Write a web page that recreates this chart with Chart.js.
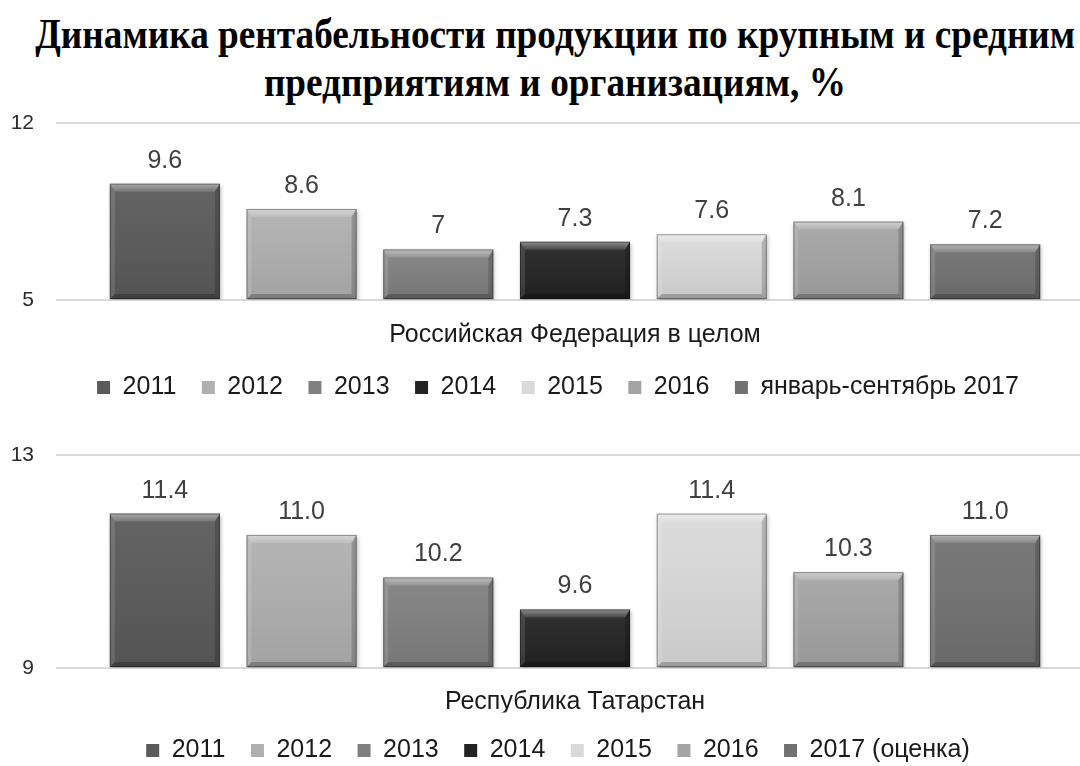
<!DOCTYPE html>
<html lang="ru">
<head>
  <meta charset="UTF-8" />
  <title>Динамика рентабельности продукции</title>
  <script src="https://cdn.jsdelivr.net/npm/chart.js"></script>
  <style>
    html, body { margin: 0; padding: 0; background: #fff; }
    #page { position: relative; width: 1080px; height: 766px; overflow: hidden; background: #fff; }
    #title {
      position: absolute; top: 10px; left: -445px; width: 2000px;
      text-align: center; white-space: nowrap;
      font-family: 'Liberation Serif', 'Times New Roman', serif;
      font-weight: bold; font-size: 43px; line-height: 48px; color: #000;
    }
    #title span { display: inline-block; transform-origin: center; }
    canvas { position: absolute; left: 0; }
    #rf { top: 110px; }
    #rt { top: 420px; }
  </style>
</head>
<body>
  <div id="page">
    <div id="title"><span id="t1">Динамика рентабельности продукции по крупным и средним</span><br><span id="t2">предприятиям и организациям, %</span></div>
    <canvas id="rf" width="1100" height="330"></canvas>
    <canvas id="rt" width="1100" height="390"></canvas>
  </div>
  <script>
    // top panel - Russian Federation
    const rfCategory = ['Российская Федерация в целом'];
    const rfSeries = ['2011', '2012', '2013', '2014', '2015', '2016', 'январь-сентябрь 2017'];
    const rfValues = [9.6, 8.6, 7, 7.3, 7.6, 8.1, 7.2];
    const rfTicks = [5, 12];
    const rfTickLabels = ['5', '12'];

    // bottom panel - Tatarstan (axis 8.5..12.5, shown rounded)
    const rtCategory = ['Республика Татарстан'];
    const rtSeries = ['2011', '2012', '2013', '2014', '2015', '2016', '2017 (оценка)'];
    const rtValues = [11.4, 11.0, 10.2, 9.6, 11.4, 10.3, 11.0];
    const rtTicks = [8.5, 12.5];
    const rtTickLabels = ['9', '13'];

    const barColors = ['#5a5a5a', '#b0b0b0', '#808080', '#232323', '#dadada', '#a4a4a4', '#717171'];

    const FONT = "'Liberation Sans', Arial, sans-serif";

    // squeeze title lines to the original width
    const t1 = document.getElementById('t1');
    const sx = 1040 / t1.getBoundingClientRect().width;
    t1.style.transform = 'scaleX(' + sx + ')';
    document.getElementById('t2').style.transform = 'scaleX(' + sx + ')';

    const shadowPlugin = {
      id: 'barShadow',
      beforeDatasetDraw(chart) {
        const ctx = chart.ctx;
        ctx.save();
        ctx.shadowColor = 'rgba(0,0,0,0.28)';
        ctx.shadowBlur = 4;
        ctx.shadowOffsetX = 1;
        ctx.shadowOffsetY = 2;
      },
      afterDatasetDraw(chart) { chart.ctx.restore(); }
    };

    function poly(ctx, pts, fill) {
      ctx.beginPath();
      ctx.moveTo(pts[0][0], pts[0][1]);
      for (let i = 1; i < pts.length; i++) ctx.lineTo(pts[i][0], pts[i][1]);
      ctx.closePath();
      ctx.fillStyle = fill;
      ctx.fill();
    }

    // bevel edges and value labels
    const bevelPlugin = {
      id: 'bevelLabels',
      afterLayout(chart, args, opts) {
        chart.legend.left += opts.legendShift;
        chart.legend.right += opts.legendShift;
      },
      afterDatasetsDraw(chart, args, opts) {
        const ctx = chart.ctx;
        chart.data.datasets.forEach((ds, i) => {
          const meta = chart.getDatasetMeta(i);
          meta.data.forEach((bar, j) => {
            const p = bar.getProps(['x', 'y', 'base', 'width'], true);
            const l = p.x - p.width / 2, r = p.x + p.width / 2;
            const t = p.y, b = p.base;
            const bv = 8, sv = 5;
            ctx.save();
            const g = ctx.createLinearGradient(0, t, 0, b);
            g.addColorStop(0, 'rgba(255,255,255,0.06)');
            g.addColorStop(1, 'rgba(0,0,0,0.08)');
            ctx.fillStyle = g;
            ctx.fillRect(l, t, r - l, b - t);
            const tg = ctx.createLinearGradient(0, t, 0, t + bv);
            tg.addColorStop(0, 'rgba(255,255,255,0.45)');
            tg.addColorStop(1, 'rgba(255,255,255,0.12)');
            poly(ctx, [[l, t], [r, t], [r - sv, t + bv], [l + sv, t + bv]], tg);
            poly(ctx, [[l, t], [l + sv, t + bv], [l + sv, b - sv], [l, b]], 'rgba(255,255,255,0.12)');
            poly(ctx, [[r, t], [r - sv, t + bv], [r - sv, b - sv], [r, b]], 'rgba(0,0,0,0.18)');
            poly(ctx, [[l, b], [l + sv, b - sv], [r - sv, b - sv], [r, b]], 'rgba(0,0,0,0.22)');
            ctx.strokeStyle = 'rgba(0,0,0,0.35)';
            ctx.lineWidth = 1;
            ctx.strokeRect(l + 0.5, t + 0.5, r - l - 1, b - t - 1);
            ctx.restore();

            ctx.save();
            ctx.font = '25px ' + FONT;
            ctx.fillStyle = '#404040';
            ctx.textAlign = 'center';
            ctx.textBaseline = 'alphabetic';
            ctx.fillText(opts.format(ds.data[j]), p.x, t - 16);
            ctx.restore();
          });
        });
      }
    };

    function makeChart(id, category, series, values, ticks, tickLabels, pad, xPad, xHeight, format) {
      const datasets = series.map((name, i) => ({
        label: name,
        data: [values[i]],
        base: ticks[0],
        backgroundColor: barColors[i],
        borderWidth: 0,
        categoryPercentage: 0.922,
        barPercentage: 0.805
      }));
      return new Chart(document.getElementById(id), {
        type: 'bar',
        data: { labels: category, datasets: datasets },
        plugins: [shadowPlugin, bevelPlugin],
        options: {
          responsive: false,
          animation: false,
          devicePixelRatio: 1,
          layout: { padding: pad },
          scales: {
            x: {
              afterFit: (scale) => { scale.height = xHeight; },
              grid: { display: false, drawTicks: false },
              border: { display: false },
              ticks: { font: { family: FONT, size: 25 }, color: '#1a1a1a', padding: xPad }
            },
            y: {
              min: ticks[0],
              max: ticks[ticks.length - 1],
              afterBuildTicks: (scale) => { scale.ticks = ticks.map(v => ({ value: v })); },
              afterFit: (scale) => {
                scale.width = 50;
                scale.paddingTop = 0;
                scale.paddingBottom = 0;
              },
              grid: { color: '#d9d9d9', lineWidth: 2, drawTicks: false },
              border: { display: false },
              ticks: {
                font: { family: FONT, size: 21 },
                color: '#2b2b2b',
                padding: 22,
                callback: (v) => tickLabels[ticks.indexOf(v)]
              }
            }
          },
          plugins: {
            legend: {
              position: 'bottom',
              labels: {
                boxWidth: 13, boxHeight: 13, padding: 25.5,
                color: '#1a1a1a',
                font: { family: FONT, size: 25 }
              }
            },
            tooltip: { enabled: false },
            bevelLabels: { format: format, legendShift: 8 }
          }
        }
      });
    }

    makeChart('rf', rfCategory, rfSeries, rfValues, rfTicks, rfTickLabels,
      { left: 6, right: 6, top: 13, bottom: 30 }, 20.5, 49.5, v => String(v));
    makeChart('rt', rtCategory, rtSeries, rtValues, rtTicks, rtTickLabels,
      { left: 6, right: 6, top: 35, bottom: 37 }, 19.5, 44.5, v => v.toFixed(1));
  </script>
</body>
</html>
